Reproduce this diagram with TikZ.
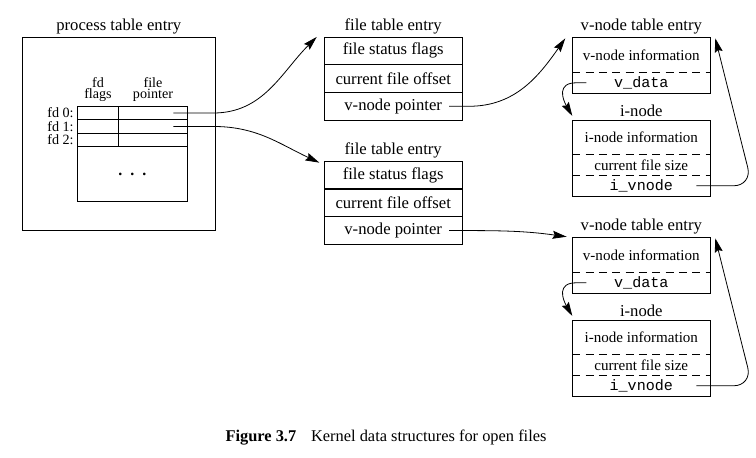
\documentclass[tikz,border=0pt]{standalone}
\usepackage{fontspec}
\setmainfont{Liberation Serif}
\setmonofont{Liberation Mono}
\usetikzlibrary{arrows.meta,positioning,fit,calc}

\begin{document}
\begin{tikzpicture}[
  x=0.75pt, y=0.75pt, line width=0.6pt,
  lbl/.style={font=\fontsize{12.5}{14}\selectfont},
  ttl/.style={lbl, inner sep=1pt},
  outline/.style={draw, outer sep=0pt, inner sep=0pt},
  cell/.style={draw, outer sep=0pt, inner sep=0pt, minimum height=10.1pt},
  fdlbl/.style={font=\fontsize{10.6}{8}\selectfont, align=center, inner sep=1pt},
  ftrow/.style={draw, outer sep=0pt, minimum width=103.3pt, minimum height=20.8pt, lbl},
  vrow/.style={outer sep=0pt, minimum width=103.5pt, font=\fontsize{11.3}{13}\selectfont},
  dashsep/.style={dash pattern=on 6pt off 4pt},
  arr/.style={-{Stealth[length=10.5pt,width=6pt,inset=1.5pt]}}
]
  \useasboundingbox (0,0) rectangle (756,-457);

  % process table
  \node[outline, minimum width=144.75pt, minimum height=144.5pt] (proc) at (118.8,-133.65) {};
  \node[ttl, above=1pt of proc] (proctitle) {process table entry};

  \node[cell, minimum width=31pt] (fl0) at (98,-113) {};
  \node[cell, minimum width=51.5pt, right=0pt of fl0] (fp0) {};
  \node[cell, minimum width=31pt, below=0pt of fl0] (fl1) {};
  \node[cell, minimum width=51.5pt, right=0pt of fl1] (fp1) {};
  \node[cell, minimum width=31pt, below=0pt of fl1] (fl2) {};
  \node[cell, minimum width=51.5pt, right=0pt of fl2] (fp2) {};
  \node[cell, minimum width=82.5pt, minimum height=41.25pt, below=0pt of fl2.south west,
        anchor=north west, font=\large\bfseries] (rest) {.\hspace{6pt}.\hspace{6pt}.};

  \node[fdlbl, left=1.5pt of fl0] (fd0) {fd 0:};
  \node[fdlbl, left=1.5pt of fl1] (fd1) {fd 1:};
  \node[fdlbl, left=1.5pt of fl2] (fd2) {fd 2:};
  \node[fdlbl, above=2.5pt of fl0] (fdflags) {fd\\flags};
  \node[fdlbl, above=2.5pt of fp0] (filepointer) {file\\pointer};

  % file table entries
  \node[ftrow] (status1) at (393.2,-50.8) {file status flags};
  \node[ftrow, below=0pt of status1] (offset1) {current file offset};
  \node[ftrow, below=0pt of offset1] (vptr1) {v-node pointer};
  \node[ttl, above=1pt of status1] (ftitle1) {file table entry};

  \node[ftrow] (status2) at (393.2,-175.1) {file status flags};
  \node[ftrow, below=0pt of status2] (offset2) {current file offset};
  \node[ftrow, below=0pt of offset2] (vptr2) {v-node pointer};
  \node[ttl, above=1pt of status2] (ftitle2) {file table entry};
  \draw[line width=1.4pt] (status2.south west) -- (status2.south east);

  % v-node and i-node pairs
  \foreach \k/\dy in {1/0,2/200} {
    \node[vrow, minimum height=25.9pt] (vinfo\k) at (641.3,-54.8-\dy) {v-node information};
    \node[vrow, minimum height=15pt, below=0pt of vinfo\k] (vdata\k) {\texttt{v\_data}};
    \node[outline, fit=(vinfo\k)(vdata\k)] (vnode\k) {};
    \node[ttl, above=1pt of vnode\k] (vtitle\k) {v-node table entry};
    \draw[dashsep] (vinfo\k.south west) -- (vinfo\k.south east);

    \node[vrow, minimum height=25.9pt] (iinfo\k) at (641.3,-137.25-\dy) {i-node information};
    \node[vrow, minimum height=15.4pt, below=0pt of iinfo\k] (isize\k) {current file size};
    \node[vrow, minimum height=15pt, below=0pt of isize\k] (ivnode\k) {\texttt{i\_vnode}};
    \node[outline, fit=(iinfo\k)(ivnode\k)] (inode\k) {};
    \node[ttl, above=1pt of inode\k] (ititle\k) {i-node};
    \draw[dashsep] (iinfo\k.south west) -- (iinfo\k.south east);
    \draw[dashsep] (isize\k.south west) -- (isize\k.south east);

    \draw[arr] ($(vdata\k.west)+(14,0)$) -- ++(-10,0)
      to[out=180,in=120,looseness=1.5] ($(iinfo\k.north west)+(0,4)$);
    \draw[arr, rounded corners=14pt] ($(ivnode\k.east)+(-14,0)$) -- ($(ivnode\k.east)+(42,0)$)
      -- ($(vinfo\k.north east)+(5,-0.8)$);
  }

  % pointers
  \coordinate (fd0ptr) at ($(fp0.east)+(-14,0)$);
  \coordinate (fd1ptr) at ($(fp1.east)+(-14,0)$);
  \draw[arr] (fd0ptr) -- ++(40,0) to[out=0,in=-135] ($(status1.north west)+(-7.6,0)$);
  \draw[arr] (fd1ptr) -- ++(40,0) to[out=0,in=155] ($(status2.north west)+(-5,-1.4)$);
  \draw[arr] ($(vptr1.east)+(-13,0)$) -- ++(20,0) to[out=0,in=-125] ($(vinfo1.north west)+(-7,-0.8)$);
  \draw[arr] ($(vptr2.east)+(-13,0)$) -- ++(15,0) to[out=0,in=172] ($(vinfo2.north west)+(-5.7,0.8)$);

  \node[font=\fontsize{12.3}{14}\selectfont] (caption) at (386,-438)
    {\textbf{Figure 3.7}\hspace{0.9em}Kernel data structures for open files};
\end{tikzpicture}
\end{document}
